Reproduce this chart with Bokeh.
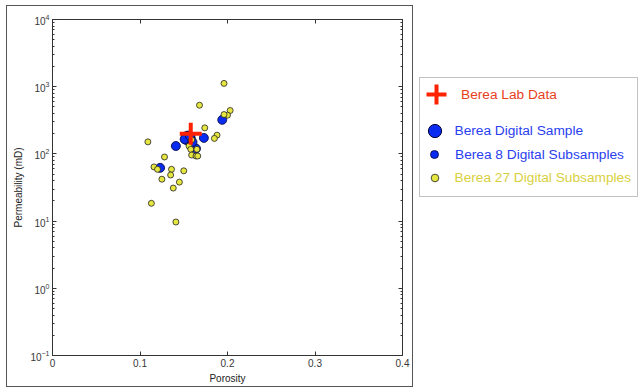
from bokeh.plotting import figure
from bokeh.layouts import row
from bokeh.models import (BoxAnnotation, Legend, LegendItem, LinearAxis, LogAxis,
                          FixedTicker, Range1d)
from bokeh.embed import file_html
from bokeh.resources import INLINE

# ---------------- data ----------------
lab_porosity = [0.158]
lab_perm = [200]

sample_porosity = [0.155]
sample_perm = [172]

sub8_porosity = [0.194, 0.173, 0.141, 0.164, 0.123, 0.151, 0.157, 0.160]
sub8_perm = [321, 173, 131, 120, 62, 165, 185, 150]

sub27_porosity = [0.196, 0.168, 0.203, 0.200, 0.196, 0.174, 0.188, 0.185, 0.109,
                  0.159, 0.156, 0.158, 0.165, 0.159, 0.164, 0.166, 0.128, 0.116,
                  0.120, 0.136, 0.150, 0.135, 0.125, 0.145, 0.138, 0.113, 0.141]
sub27_perm = [1120, 530, 442, 377, 385, 244, 190, 170, 151,
              162, 131, 117, 117, 96, 93, 93, 90, 64,
              59, 59, 56, 48.5, 42, 38, 31, 18.4, 9.7]

x_ticks = [0, 0.1, 0.2, 0.3, 0.4]
x_tick_labels = ["0", "0.1", "0.2", "0.3", "0.4"]
y_ticks = [0.1, 1, 10, 100, 1000, 10000]
y_minor = [m * 10.0 ** e for e in range(-1, 4) for m in range(2, 10)]

labels = ["Berea Lab Data", "Berea Digital Sample",
          "Berea 8 Digital Subsamples", "Berea 27 Digital Subsamples"]

# ---------------- styling ----------------
FONT = "Liberation Sans"
RED = "#ff2200"
BLUE = "#0a2cf0"
YELLOW = "#e6e640"
TEXT_COLORS = ["#e8401c", "#2a40f0", "#2a40f0", "#d8d040"]

p = figure(width=407, height=382, x_range=Range1d(0, 0.4), y_range=Range1d(0.1, 1e4),
           y_axis_type="log", output_backend="svg", toolbar_location=None,
           min_border_left=45, min_border_right=12, min_border_top=13,
           min_border_bottom=33)
p.grid.visible = False
p.outline_line_color = "#333333"
p.background_fill_color = "white"
p.border_fill_color = "white"
p.margin = (5, 0, 0, 6)
p.styles = {"border": "1px solid #555555"}

def style_axis(ax, labels_on=True):
    ax.axis_line_color = "#333333"
    ax.major_tick_in = 4
    ax.major_tick_out = 0
    ax.minor_tick_in = 2
    ax.minor_tick_out = 0
    ax.major_tick_line_color = "#333333"
    ax.minor_tick_line_color = "#333333"
    ax.major_label_text_font = FONT
    ax.major_label_text_font_size = "10px" if labels_on else "1px"
    ax.major_label_text_color = "#383838" if labels_on else None
    ax.major_label_standoff = 3 if labels_on else 0
    ax.axis_label_text_font = FONT
    ax.axis_label_text_font_size = "10px"
    ax.axis_label_text_font_style = "normal"
    ax.axis_label_text_color = "#222222"
    ax.axis_label_standoff = 3

xt = FixedTicker(ticks=x_ticks, minor_ticks=[])
yt = FixedTicker(ticks=y_ticks, minor_ticks=y_minor)

p.xaxis.ticker = xt
p.xaxis.major_label_overrides = dict(zip(x_ticks, x_tick_labels))
p.xaxis.axis_label = "Porosity"
p.yaxis.ticker = yt
p.yaxis.axis_label = "Permeability (mD)"
style_axis(p.xaxis[0])
style_axis(p.yaxis[0])

top_ax = LinearAxis(ticker=xt)
style_axis(top_ax, labels_on=False)
p.add_layout(top_ax, "above")
right_ax = LogAxis(ticker=yt)
style_axis(right_ax, labels_on=False)
p.add_layout(right_ax, "right")

# ---------------- glyphs ----------------
sample_style = dict(marker="circle", fill_color=BLUE, line_color="#000033", line_width=1)
sub8_style = dict(marker="circle", fill_color=BLUE, line_color="#000033", line_width=0.8)
sub27_style = dict(marker="circle", fill_color=YELLOW, line_color="#222222", line_width=0.8)
lab_style = dict(marker="cross", line_color=RED, line_width=4)

p.scatter(sample_porosity, sample_perm, size=14, **sample_style)
p.scatter(sub8_porosity, sub8_perm, size=9, **sub8_style)
p.scatter(sub27_porosity, sub27_perm, size=6, **sub27_style)
p.scatter(lab_porosity, lab_perm, size=22, **lab_style)

# ---------------- legend panel ----------------
LW, LH = 225, 387
lp = figure(width=LW, height=LH, x_range=Range1d(0, 1), y_range=Range1d(0, 1),
            output_backend="svg", toolbar_location=None,
            x_axis_location=None, y_axis_location=None,
            min_border=0, min_border_left=0, min_border_right=0,
            min_border_top=0, min_border_bottom=0)
lp.grid.visible = False
lp.outline_line_color = None
lp.background_fill_color = "white"
lp.border_fill_color = "white"

# legend frame, in screen pixels measured from the panel frame's bottom-left
lp.add_layout(BoxAnnotation(left=6, right=224, bottom=158, top=277,
                            left_units="screen", right_units="screen",
                            top_units="screen", bottom_units="screen",
                            fill_color=None, fill_alpha=0,
                            line_color="#333333", line_width=1))

# hidden proxy renderers carrying each series' style for the legend swatches
proxies = [
    lp.scatter(lab_porosity, lab_perm, visible=False, **lab_style),
    lp.scatter(sample_porosity, sample_perm, visible=False, **sample_style),
    lp.scatter(sub8_porosity, sub8_perm, visible=False, **sub8_style),
    lp.scatter(sub27_porosity, sub27_perm, visible=False, **sub27_style),
]
glyph_boxes = [50, 33, 20, 19]
locs = [(-2, 235), (4.5, 207.5), (11, 190), (11.5, 167.5)]
standoffs = [0, 4, 11, 11]
for rend, lab, col, g, loc, so in zip(proxies, labels, TEXT_COLORS, glyph_boxes,
                                      locs, standoffs):
    lg = Legend(items=[LegendItem(label=lab, renderers=[rend])], location=loc,
                border_line_color=None, background_fill_alpha=0, padding=0,
                margin=0, glyph_width=g, glyph_height=g, label_height=g,
                label_standoff=so, label_text_font=FONT,
                label_text_font_size="13.7px", label_text_color=col,
                spacing=0, click_policy="none")
    lp.add_layout(lg)

layout = row(p, lp)
open("out.html", "w").write(file_html(layout, INLINE))
